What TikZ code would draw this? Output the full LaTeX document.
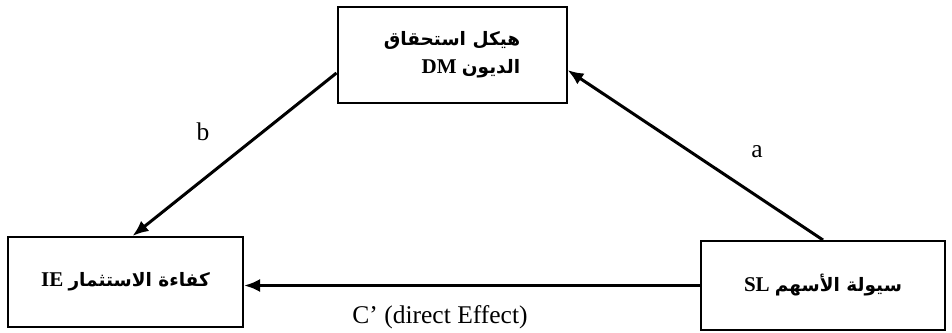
\documentclass[tikz,border=0pt]{standalone}
\usepackage{fontspec}
\setmainfont{Liberation Serif}
\newfontfamily\arabicfont[Script=Arabic]{DejaVu Sans}
\TeXXeTstate=1
\usetikzlibrary{arrows.meta,calc}
\tikzset{
  >={Latex[length=16pt,width=13pt]},
  var/.style={draw,line width=2pt,align=right,font=\fontsize{21}{28}\selectfont\bfseries},
  lbl/.style={font=\fontsize{25.5}{30}\selectfont},
  path/.style={->,line width=3pt},
}
\newcommand{\ar}[1]{{\arabicfont\bfseries\fontsize{18.5}{28}\selectfont #1}}

\begin{document}
\begin{tikzpicture}[x=1pt,y=-1pt]
\useasboundingbox (0,0) rectangle (952,332);
\node[var,minimum width=229pt,minimum height=96pt] (DM) at (452,55)
  {\beginR\ar{هيكل استحقاق}\endR\\ \beginR\ar{الديون} \beginL DM\endL\endR};
\node[var,minimum width=235pt,minimum height=90pt] (IE) at (125.5,282)
  {\beginR\ar{كفاءة الاستثمار} \beginL IE\endL\endR};
\node[var,minimum width=244pt,minimum height=89pt] (SL) at (823,285.5)
  {\beginR\ar{سيولة الأسهم} \beginL SL\endL\endR};
\draw[path] (SL.north) -- ([yshift=-15pt]DM.east);
\draw[path] ([yshift=-18pt]DM.west) -- ([xshift=7pt]IE.north);
\draw[path] (SL.west) -- (SL.west -| IE.east);
\node[lbl] (a) at (757,152) {a};
\node[lbl] (b) at (203,132) {b};
\node[lbl] (c) at (440,317) {C’ (direct Effect)};
\end{tikzpicture}
\end{document}
